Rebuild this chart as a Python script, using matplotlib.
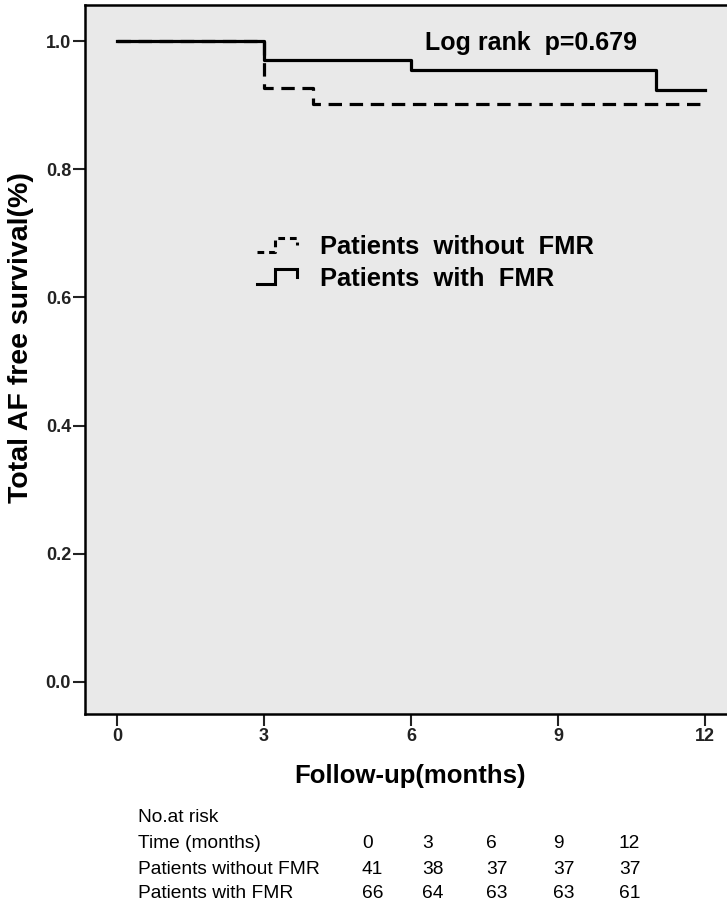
import numpy as np
import matplotlib
matplotlib.use("Agg")
import matplotlib.pyplot as plt
from matplotlib.lines import Line2D
from matplotlib.legend_handler import HandlerBase

plt.rcParams["font.family"] = ["Liberation Sans", "DejaVu Sans"]

# Kaplan-Meier step data
t_without = [0, 3, 4, 12]
s_without = [1.0, 0.927, 0.902, 0.902]
t_with = [0, 3, 6, 11, 12]
s_with = [1.0, 0.970, 0.955, 0.924, 0.924]

xticks = [0, 3, 6, 9, 12]
yticks = [0.0, 0.2, 0.4, 0.6, 0.8, 1.0]

# numbers at risk table
risk_times = ["0", "3", "6", "9", "12"]
risk_without = [41, 38, 37, 37, 37]
risk_with = [66, 64, 63, 63, 61]
group_names = ["Patients without FMR", "Patients with FMR"]
legend_names = ["Patients  without  FMR", "Patients  with  FMR"]


class StepHandler(HandlerBase):
    """Draws the little step symbol used in the legend."""
    def __init__(self, dashed):
        super().__init__()
        self.dashed = dashed

    def create_artists(self, legend, orig_handle, xdescent, ydescent,
                       width, height, fontsize, trans):
        x0 = -xdescent
        y0 = -ydescent
        xs = [x0, x0 + 0.45 * width, x0 + 0.45 * width, x0 + width, x0 + width]
        ys = [y0 + 0.1 * height, y0 + 0.1 * height, y0 + 0.9 * height,
              y0 + 0.9 * height, y0 + 0.5 * height]
        ln = Line2D(xs, ys, color="black", lw=2.2, transform=trans,
                    solid_joinstyle="miter")
        if self.dashed:
            ln.set_dashes((2.2, 1.6))
        return [ln]


fig = plt.figure(figsize=(7.27, 9.07), dpi=100)
ax = fig.add_axes([85 / 727, 1 - 714 / 907, 1 - 85 / 727 + 0.01, (714 - 4.5) / 907])
ax.set_facecolor("#e9e9e9")

ax.step(t_with, s_with, where="post", color="black", lw=2.3)
ax.step(t_without, s_without, where="post", color="black", lw=2.3,
        ls=(0, (4.2, 2.4)))

ax.set_xlim(-0.656, 12.6)
ax.set_ylim(-0.050, 1.057)
ax.set_xticks(xticks)
ax.set_xticklabels([str(v) for v in xticks], fontsize=13, fontweight="bold")
ax.set_yticks(yticks)
ax.set_yticklabels([f"{v:.1f}" for v in yticks], fontsize=13, fontweight="bold")
ax.tick_params(direction="out", length=8.5, width=1.5, colors="#222222", pad=1.5)
for side in ("left", "bottom", "top"):
    ax.spines[side].set_linewidth(1.8)
ax.spines["right"].set_visible(False)

ax.set_ylabel("Total AF free survival(%)", fontsize=20.5, fontweight="bold")
ax.yaxis.set_label_coords(-0.0786, 0.531)
ax.set_xlabel("Follow-up(months)", fontsize=18.5, fontweight="bold", labelpad=14)

ax.text(0.687, 0.946, "Log rank  p=0.679", transform=ax.transAxes, ha="center",
        va="center", fontsize=18, fontweight="bold")

h1 = Line2D([], [])
h2 = Line2D([], [])
ax.legend([h1, h2], legend_names, handler_map={h1: StepHandler(True),
                                               h2: StepHandler(False)},
          loc="center left", bbox_to_anchor=(0.2296, 0.636), frameon=False,
          prop={"size": 18.4, "weight": "bold"}, handlelength=1.55,
          handletextpad=0.9, labelspacing=0.3)

# number at risk table
col_x = [362, 422, 486, 553, 619]
row_y = [818, 843, 869, 894]
fs = 13.8
fig.text(138 / 727, 1 - row_y[0] / 907, "No.at risk", fontsize=fs, va="center")
fig.text(138 / 727, 1 - row_y[1] / 907, "Time (months)", fontsize=fs, va="center")
fig.text(138 / 727, 1 - row_y[2] / 907, group_names[0], fontsize=fs, va="center")
fig.text(138 / 727, 1 - row_y[3] / 907, group_names[1], fontsize=fs, va="center")
for x, tm, a, b in zip(col_x, risk_times, risk_without, risk_with):
    fig.text(x / 727, 1 - row_y[1] / 907, tm, fontsize=fs, va="center")
    fig.text(x / 727, 1 - row_y[2] / 907, str(a), fontsize=fs, va="center")
    fig.text(x / 727, 1 - row_y[3] / 907, str(b), fontsize=fs, va="center")

fig.savefig("out.png", dpi=100)
